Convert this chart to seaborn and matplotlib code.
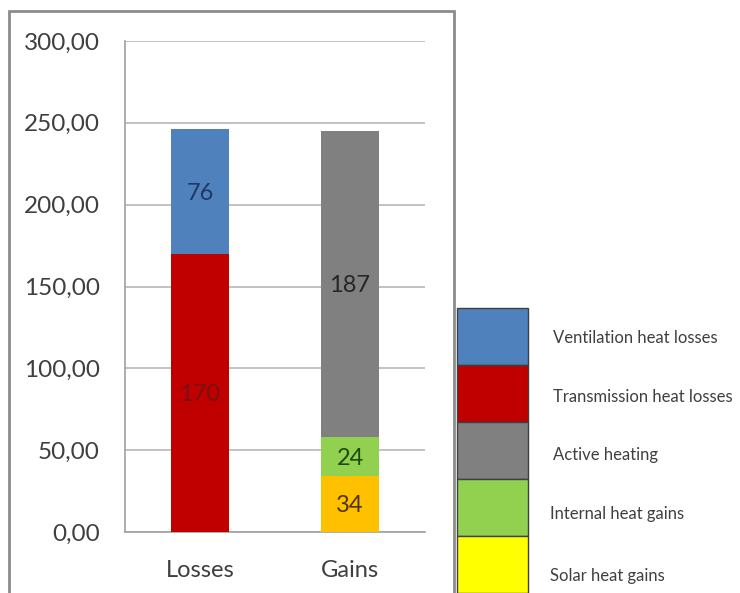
import matplotlib
matplotlib.use("Agg")
import matplotlib.pyplot as plt
from matplotlib.patches import Rectangle
from matplotlib.ticker import FixedLocator
import seaborn as sns
import pandas as pd

# ---- data -------------------------------------------------------------
categories = ["Losses", "Gains"]
components = ["Transmission heat losses", "Ventilation heat losses",
              "Solar heat gains", "Internal heat gains", "Active heating"]
component_category = ["Losses", "Losses", "Gains", "Gains", "Gains"]
component_values = [170, 76, 34, 24, 187]
bar_colors = ["#c00000", "#4f81bd", "#ffc000", "#92d050", "#808080"]
label_colors = ["#7a1010", "#1f3864", "#4d3600", "#1e4a12", "#262626"]

legend_labels = ["Ventilation heat losses", "Transmission heat losses",
                 "Active heating", "Internal heat gains", "Solar heat gains"]
legend_colors = ["#4f81bd", "#c00000", "#808080", "#92d050", "#ffff00"]

y_ticks = [0, 50, 100, 150, 200, 250, 300]

# ---- stacking table ---------------------------------------------------
df = pd.DataFrame({"category": component_category,
                   "component": components,
                   "value": component_values,
                   "color": bar_colors,
                   "label_color": label_colors})
df["top"] = df.groupby("category")["value"].cumsum()
df["bottom"] = df["top"] - df["value"]

W, H = 740, 593
fig = plt.figure(figsize=(W / 100, H / 100), dpi=100)
sns.set_style("white")
plt.rcParams["font.family"] = ["Lato", "DejaVu Sans"]

def fx(px):
    return px / W

def fy(py):
    return 1 - py / H

ax = fig.add_axes([fx(125), fy(532), fx(425) - fx(125), fy(41) - fy(532)])

# draw stacked bars: tallest cumulative segment first, shorter ones on top
for _, row in df.sort_values("top", ascending=False).iterrows():
    sns.barplot(x=[row["category"]], y=[row["top"]], order=categories,
                color=row["color"], width=0.39, saturation=1,
                edgecolor="none", linewidth=0, ax=ax, zorder=3)

text_col = "#3f3f3f"
for _, row in df.iterrows():
    xi = categories.index(row["category"])
    ax.text(xi, (row["bottom"] + row["top"]) / 2 - 1, f"{row['value']}",
            ha="center", va="center", fontsize=17, color=row["label_color"],
            zorder=5)

ax.set_xlim(-0.5, 1.5)
ax.set_ylim(0, 300)
ax.set_yticks(y_ticks)
ax.set_yticklabels([f"{v:.2f}".replace(".", ",") for v in y_ticks])
ax.set_xlabel("")
ax.set_ylabel("")
ax.yaxis.grid(True, color="#b8b8b8", linewidth=1.2, zorder=0)
ax.set_axisbelow(True)
for s in ["top", "right"]:
    ax.spines[s].set_visible(False)
for s in ["left", "bottom"]:
    ax.spines[s].set_color("#a0a0a0")
    ax.spines[s].set_linewidth(1.2)
ax.tick_params(axis="y", length=6, color="#a0a0a0", labelsize=17.5,
               labelcolor=text_col, pad=12)
ax.tick_params(axis="x", which="major", length=0, labelsize=17,
               labelcolor=text_col, pad=20)
ax.xaxis.set_minor_locator(FixedLocator([-0.5, 0.5, 1.5]))
ax.tick_params(axis="x", which="minor", length=5, color="#a0a0a0")

# chart frame
fig.patches.append(Rectangle((fx(9), fy(610)), fx(454) - fx(9), fy(11) - fy(610),
                             transform=fig.transFigure, fill=False,
                             edgecolor="#8c8c8c", linewidth=2))

# legend swatches with labels
box_top, box_h = 308, 57
label_x = [553, 553, 553, 550, 550]
label_y = [338, 397, 455, 514, 576]
for i, (lab, col) in enumerate(zip(legend_labels, legend_colors)):
    y0 = box_top + i * box_h
    fig.patches.append(Rectangle((fx(457), fy(y0 + box_h)), fx(528) - fx(457),
                                 fy(y0) - fy(y0 + box_h),
                                 transform=fig.transFigure, facecolor=col,
                                 edgecolor="#404040", linewidth=1))
    fig.text(fx(label_x[i]), fy(label_y[i]), lab, ha="left",
             va="center", fontsize=12, color=text_col)

fig.savefig("out.png", dpi=100)
